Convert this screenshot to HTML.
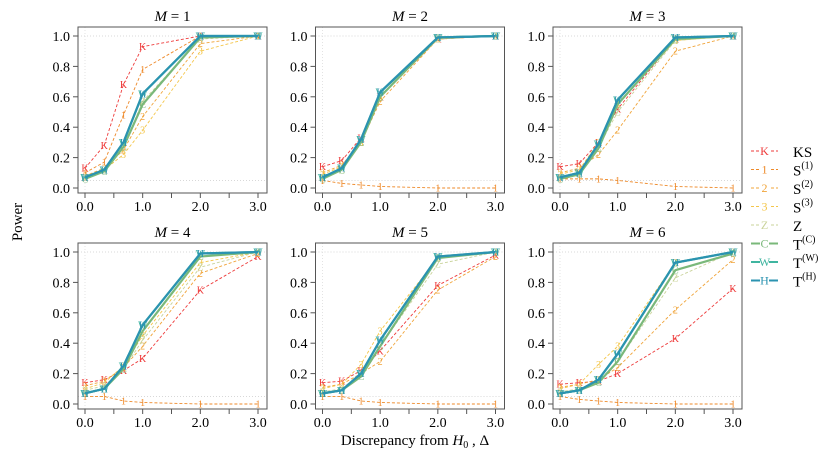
<!DOCTYPE html>
<html><head><meta charset="utf-8"><style>
body{margin:0;background:#fff;}
svg{font-family:"Liberation Serif",serif;}
</style></head><body>
<svg id="c" width="830" height="455" xmlns="http://www.w3.org/2000/svg"></svg>
<script>
const xVals=[0,1/3,2/3,1,2,3];
const xTicks=[0,0.5,1,1.5,2,2.5,3];
const xTickLabels=["0.0","","1.0","","2.0","","3.0"];
const yTicks=[0,0.2,0.4,0.6,0.8,1.0];
const yTickLabels=["0.0","0.2","0.4","0.6","0.8","1.0"];
const seriesNames=["KS","S(1)","S(2)","S(3)","Z","T(C)","T(W)","T(H)"];
const seriesLetters=["K","1","2","3","Z","C","W","H"];
const panelTitles=["1","2","3","4","5","6"];
const m1=[[.13,.28,.68,.93,1,1],[.10,.17,.48,.78,1,1],[.08,.13,.25,.47,.95,1],[.07,.12,.22,.38,.90,1],[.07,.12,.27,.57,.98,1],[.06,.11,.27,.55,.99,1],[.07,.12,.30,.62,1,1],[.07,.12,.30,.62,1,1]];
const m2=[[.14,.18,.33,.60,.98,1],[.05,.03,.02,.01,0,0],[.10,.15,.30,.57,.98,1],[.09,.14,.30,.60,.98,1],[.07,.12,.30,.60,.98,1],[.06,.12,.30,.60,.99,1],[.07,.13,.32,.63,.99,1],[.07,.13,.32,.63,.99,1]];
const m3=[[.14,.16,.30,.52,.98,1],[.06,.06,.06,.05,.01,0],[.10,.13,.22,.38,.90,1],[.09,.12,.30,.55,.97,1],[.07,.10,.27,.50,.97,1],[.06,.09,.26,.55,.98,1],[.07,.10,.29,.58,.99,1],[.07,.10,.29,.58,.99,1]];
const m4=[[.14,.16,.22,.30,.75,.97],[.05,.05,.02,.01,0,0],[.12,.15,.24,.38,.86,.99],[.10,.14,.25,.45,.93,1],[.09,.12,.23,.42,.90,1],[.07,.10,.23,.48,.97,1],[.07,.10,.25,.52,.99,1],[.07,.10,.25,.52,.99,1]];
const m5=[[.14,.15,.22,.35,.78,.98],[.05,.05,.02,.01,0,0],[.11,.13,.20,.28,.75,.97],[.10,.13,.26,.48,.96,1],[.08,.10,.20,.38,.92,1],[.07,.09,.18,.38,.96,1],[.07,.09,.20,.42,.97,1],[.07,.09,.20,.42,.97,1]];
const m6=[[.13,.14,.15,.20,.43,.76],[.05,.03,.02,.01,0,0],[.11,.13,.16,.24,.62,.95],[.10,.13,.26,.38,.93,1],[.08,.10,.15,.28,.83,1],[.07,.09,.14,.28,.88,.99],[.07,.09,.16,.33,.93,1],[.07,.09,.16,.33,.93,1]];
const panels=[m1,m2,m3,m4,m5,m6];

const colors=["#ee3b3b","#ee8a2a","#f0a43a","#f4c64a","#c9d39a","#7ab87a","#3fb5a0","#2b93b0"];
const NS="http://www.w3.org/2000/svg";
const svg=document.getElementById('c');
function mk(t,a,p){const e=document.createElementNS(NS,t);for(const k in a)e.setAttribute(k,a[k]);(p||svg).appendChild(e);return e;}

panels.forEach((data,pi)=>{
  const col=pi%3,row=Math.floor(pi/3);
  const bl=78+col*237.5,br=bl+189,bt=27+row*216,bb=bt+166;
  const x0=85+col*237.5,x3=258+col*237.5;
  const y1=36+row*216,y0=188+row*216;
  const sx=v=>x0+(x3-x0)*v/3;
  const sy=v=>y0+(y1-y0)*v;
  const g=mk('g',{});
  
  
  const t=mk('text',{x:(bl+br)/2,y:bt-6,'text-anchor':'middle','font-size':'15'},g);
  t.innerHTML='<tspan font-style="italic">M</tspan> = '+panelTitles[pi];
  
  
  [1,0.05].forEach(v=>mk('line',{x1:bl,x2:br,y1:sy(v),y2:sy(v),stroke:'#ccc','stroke-dasharray':'1,2','stroke-width':0.8},g));
  mk('line',{x1:sx(0),x2:sx(0),y1:bt,y2:bb,stroke:'#ddd','stroke-dasharray':'1,2','stroke-width':0.8},g);
  const box=mk('rect',{x:bl,y:bt,width:br-bl,height:bb-bt,fill:'none',stroke:'#555','stroke-width':1},g);
  
  
  xTicks.forEach((v,i)=>{
    mk('line',{x1:sx(v),x2:sx(v),y1:bb,y2:bb+5,stroke:'#555'},g);
    if(xTickLabels[i]){const l=mk('text',{x:sx(v),y:bb+18,'text-anchor':'middle','font-size':'14'},g);l.textContent=xTickLabels[i];
      
      }
  });
  yTicks.forEach((v,i)=>{
    mk('line',{x1:bl-5,x2:bl,y1:sy(v),y2:sy(v),stroke:'#555'},g);
    const l=mk('text',{x:bl-8,y:sy(v)+5,'text-anchor':'end','font-size':'14'},g);l.textContent=yTickLabels[i];
    
    
  });
  data.forEach((ser,si)=>{
    const solid=si>=5;
    const pts=ser.map((v,i)=>sx(xVals[i])+','+sy(v)).join(' ');
    const pl=mk('polyline',{points:pts,fill:'none',stroke:colors[si],'stroke-width':solid?2.2:0.9,'stroke-dasharray':solid?'none':'3,2'},g);
    
    
    ser.forEach((v,i)=>{
      const m=mk('text',{x:sx(xVals[i]),y:sy(v)+3.5,'text-anchor':'middle','font-size':'10',fill:colors[si]},g);
      m.textContent=seriesLetters[si];
      
      
    });
  });
});

const yl=mk('text',{x:22,y:222,'text-anchor':'middle','font-size':'15',transform:'rotate(-90 22 222)'});
yl.textContent='Power';


const xl=mk('text',{x:415,y:445,'text-anchor':'middle','font-size':'15'});
xl.innerHTML='Discrepancy from <tspan font-style="italic">H</tspan><tspan font-size="10" dy="3">0</tspan><tspan dy="-3"> , Δ</tspan>';



const sups=["","(1)","(2)","(3)","","(C)","(W)","(H)"];
const bases=["KS","S","S","S","Z","T","T","T"];
seriesNames.forEach((n,si)=>{
  const y=151+si*18.5;
  const g=mk('g',{});
  
  
  const solid=si>=5;
  mk('line',{x1:751,x2:778,y1:y,y2:y,stroke:colors[si],'stroke-width':solid?2:0.9,'stroke-dasharray':solid?'none':'3,2'},g);
  mk('rect',{x:760,y:y-6,width:9,height:12,fill:'#fff'},g);
  const m=mk('text',{x:764.5,y:y+4,'text-anchor':'middle','font-size':'12',fill:colors[si]},g);m.textContent=seriesLetters[si];
  const l=mk('text',{x:793,y:y+6,'font-size':'15'},g);
  l.innerHTML=bases[si]+(sups[si]?'<tspan font-size="10" dy="-7">'+sups[si]+'</tspan>':'');
});
</script>
</body></html>
